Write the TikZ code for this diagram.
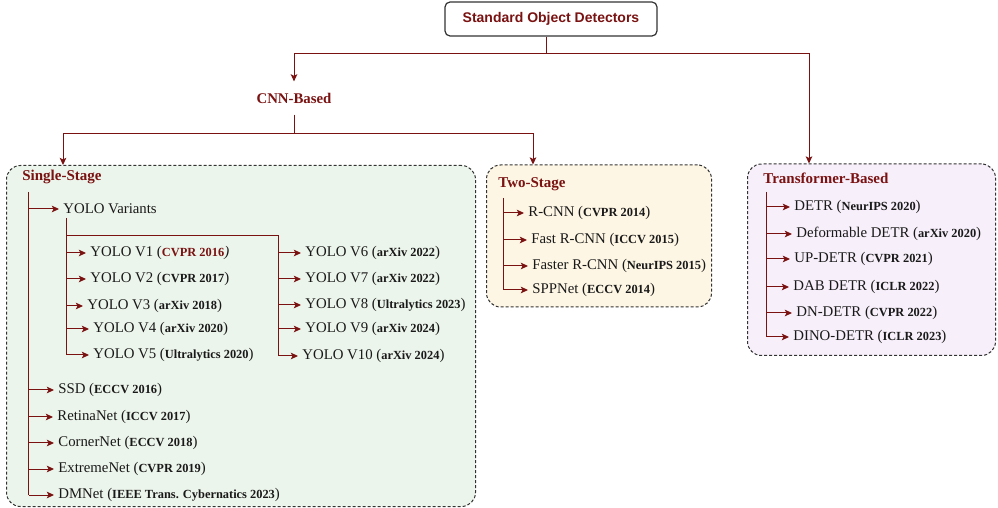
\documentclass[tikz,border=0pt]{standalone}
\usepackage{fontspec}
\setmainfont{Liberation Serif}
\newfontfamily\titlefont{Liberation Sans}
\usetikzlibrary{arrows.meta,calc}

\definecolor{treeRed}{RGB}{122,18,18}
\definecolor{ssfill}{RGB}{236,245,235}
\definecolor{tsfill}{RGB}{254,246,228}
\definecolor{trfill}{RGB}{247,239,250}

\newcommand{\venue}[1]{{\fontsize{6.2}{7}\selectfont\bfseries #1}}

\tikzset{
  conn/.style={treeRed, line width=0.5pt},
  arr/.style={conn, -{Stealth[length=3.6pt,width=3.3pt,inset=0.8pt]}},
  item/.style={anchor=west, inner xsep=2pt, inner ysep=1pt, text=black!90, font=\fontsize{7.4}{9}\selectfont},
  head/.style={anchor=west, inner sep=1pt, text=treeRed, font=\fontsize{7.5}{9}\selectfont\bfseries},
  group/.style={draw=black!80, dash pattern=on 1.5pt off 1pt, line width=0.5pt, rounded corners=7pt, anchor=north west, inner sep=0pt},
  rootbox/.style={draw=black!80, fill=white, line width=0.6pt, rounded corners=2.5pt, minimum width=106pt, minimum height=17pt, text=treeRed, font=\titlefont\fontsize{7}{8}\selectfont\bfseries},
  cnnhead/.style={inner xsep=1pt, inner ysep=5.5pt, text=treeRed, font=\fontsize{7.4}{9}\selectfont\bfseries}
}

\begin{document}
\begin{tikzpicture}[x=0.5pt,y=-0.5pt]
%\draw[step=50,gray,very thin] (0,0) grid (998,508);
\useasboundingbox (0,0) rectangle (998,508);

\node[group,fill=ssfill,minimum width=234.5pt,minimum height=170.5pt] (single) at (6,165) {};
\node[group,fill=tsfill,minimum width=112.5pt,minimum height=71pt] (two) at (486,164.5) {};
\node[group,fill=trfill,minimum width=124pt,minimum height=95.75pt] (trans) at (747,163.5) {};

\node[rootbox] (root) at (551,19) {Standard Object Detectors};
\node[cnnhead] (cnn) at (294,98) {CNN-Based};

\node[head] (sshead) at (20,177) {Single-Stage};
\node[head] (tshead) at (496,184) {Two-Stage};
\node[head] (trhead) at (761,178) {Transformer-Based};

\coordinate (rootsplit) at (546,54);
\coordinate (cnnsplit) at (294,134);
\draw[conn] (rootsplit |- root.south) -- (rootsplit);
\draw[arr] (rootsplit) -| (cnn.north);
\draw[arr] (rootsplit) -| ($(trans.north west)+(62,0)$);
\draw[conn] (cnn.south) -- (cnnsplit);
\draw[arr] (cnnsplit) -| ($(single.north west)+(57,0)$);
\draw[arr] (cnnsplit) -| ($(two.north west)+(47,0)$);

% single-stage
\node[item] (yolo)    at (59,209) {YOLO Variants};
\node[item] (ssd)     at (54,390) {SSD (\venue{ECCV 2016})};
\node[item] (retina)  at (53,417) {RetinaNet (\venue{ICCV 2017})};
\node[item] (corner)  at (54,443) {CornerNet (\venue{ECCV 2018})};
\node[item] (extreme) at (54,469) {ExtremeNet (\venue{CVPR 2019})};
\node[item] (dmnet)   at (54,495) {DMNet (\venue{IEEE Trans. Cybernatics 2023})};

\coordinate (ssspine) at (28.5,192);
\draw[conn] (ssspine) -- (ssspine |- dmnet.west);
\draw[arr] (ssspine |- yolo.west) -- (yolo.west);
\draw[arr] (ssspine |- ssd.west) -- (ssd.west);
\draw[arr] (ssspine |- retina.west) -- (retina.west);
\draw[arr] (ssspine |- corner.west) -- (corner.west);
\draw[arr] (ssspine |- extreme.west) -- (extreme.west);
\draw[arr] (ssspine |- dmnet.west) -- (dmnet.west);

\node[item] (v1) at (86,253) {YOLO V1 (\textcolor{treeRed}{\venue{CVPR 2016}}\textit{)}};
\node[item] (v2) at (86,279) {YOLO V2 (\venue{CVPR 2017})};
\node[item] (v3) at (83,306) {YOLO V3 (\venue{arXiv 2018})};
\node[item] (v4) at (89,329) {YOLO V4 (\venue{arXiv 2020})};
\node[item] (v5) at (89,355) {YOLO V5 (\venue{Ultralytics 2020})};

\node[item] (v6)  at (301,253) {YOLO V6 (\venue{arXiv 2022})};
\node[item] (v7)  at (301,279) {YOLO V7 (\venue{arXiv 2022})};
\node[item] (v8)  at (301,305) {YOLO V8 (\venue{Ultralytics 2023})};
\node[item] (v9)  at (301,329) {YOLO V9 (\venue{arXiv 2024})};
\node[item] (v10) at (298,356) {YOLO V10 (\venue{arXiv 2024})};

\coordinate (yolospine) at (66,218);
\coordinate (yolojoint) at (66,236);
\coordinate (yolospineb) at (278,236);
\draw[conn] (yolospine) -- (yolospine |- v5.west);
\draw[conn] (yolojoint) -- (yolospineb) -- (yolospineb |- v10.west);
\draw[arr] (yolospine |- v1.west) -- (v1.west);
\draw[arr] (yolospine |- v2.west) -- (v2.west);
\draw[arr] (yolospine |- v3.west) -- (v3.west);
\draw[arr] (yolospine |- v4.west) -- (v4.west);
\draw[arr] (yolospine |- v5.west) -- (v5.west);
\draw[arr] (yolospineb |- v6.west) -- (v6.west);
\draw[arr] (yolospineb |- v7.west) -- (v7.west);
\draw[arr] (yolospineb |- v8.west) -- (v8.west);
\draw[arr] (yolospineb |- v9.west) -- (v9.west);
\draw[arr] (yolospineb |- v10.west) -- (v10.west);

% two-stage
\node[item] (rcnn)   at (524,213) {R-CNN (\venue{CVPR 2014})};
\node[item] (fast)   at (527,240) {Fast R-CNN (\venue{ICCV 2015})};
\node[item] (faster) at (528,266) {Faster R-CNN (\venue{NeurIPS 2015})};
\node[item] (spp)    at (528,290) {SPPNet (\venue{ECCV 2014})};

\coordinate (tsspine) at (503,198);
\draw[conn] (tsspine) -- (tsspine |- spp.west);
\draw[arr] (tsspine |- rcnn.west) -- (rcnn.west);
\draw[arr] (tsspine |- fast.west) -- (fast.west);
\draw[arr] (tsspine |- faster.west) -- (faster.west);
\draw[arr] (tsspine |- spp.west) -- (spp.west);

% transformer-based
\node[item] (detr)   at (790,207) {DETR (\venue{NeurIPS 2020})};
\node[item] (deform) at (792,234) {Deformable DETR (\venue{arXiv 2020})};
\node[item] (updetr) at (790,259) {UP-DETR (\venue{CVPR 2021})};
\node[item] (dab)    at (789,287) {DAB DETR (\venue{ICLR 2022})};
\node[item] (dn)     at (792,313) {DN-DETR (\venue{CVPR 2022})};
\node[item] (dino)   at (789,337) {DINO-DETR (\venue{ICLR 2023})};

\coordinate (trspine) at (766,192);
\draw[conn] (trspine) -- (trspine |- dino.west);
\draw[arr] (trspine |- detr.west) -- (detr.west);
\draw[arr] (trspine |- deform.west) -- (deform.west);
\draw[arr] (trspine |- updetr.west) -- (updetr.west);
\draw[arr] (trspine |- dab.west) -- (dab.west);
\draw[arr] (trspine |- dn.west) -- (dn.west);
\draw[arr] (trspine |- dino.west) -- (dino.west);

\end{tikzpicture}
\end{document}
